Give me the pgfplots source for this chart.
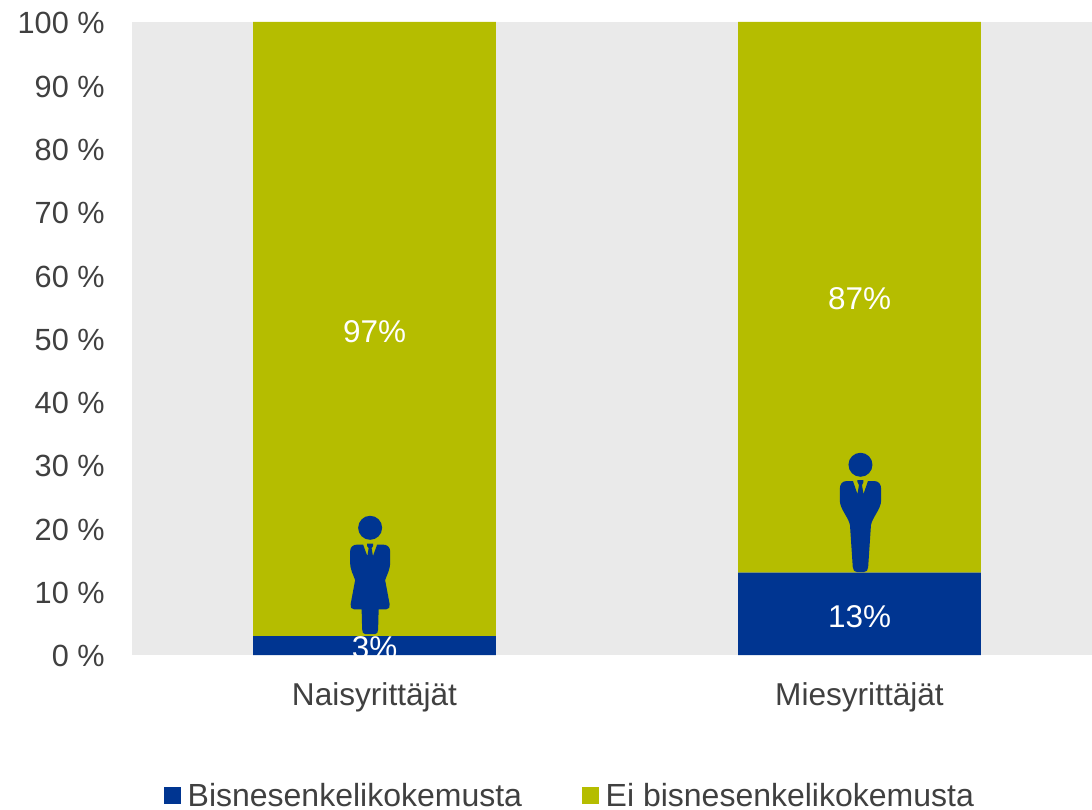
\documentclass[border=0pt]{standalone}
\usepackage{fontspec}
\setmainfont{Liberation Sans}
\usepackage{pgfplots}
\pgfplotsset{compat=1.18}
\usepgflibrary{svg.path}

\definecolor{kblue}{HTML}{003591}
\definecolor{kolive}{HTML}{B5BD00}
\definecolor{kback}{HTML}{EAEAEA}
\definecolor{ktext}{HTML}{404040}

% icons, drawn in reference pixels from the feet up
\pgfdeclareplotmark{woman}{%
  \pgftransformscale{0.75}%
  \pgfpathsvg{M -5 0 L 5 0 C 7 0 8 2 8 5 L 8.5 24.7 L 16 24.7 C 19 24.7 20 27 19.5 30 L 15 54 C 17 60 20 64 20 72 L 20 83 C 20 87 17 89.5 13 89.5 L 7 89.5 L 2.8 78 L 1.5 86 L 3 88 L 3 90.5 L -3 90.5 L -3 88 L -1.5 86 L -2.8 78 L -7 89.5 L -13 89.5 C -17 89.5 -20 87 -20 83 L -20 72 C -20 64 -17 60 -15 54 L -19.5 30 C -20 27 -19 24.7 -16 24.7 L -8.5 24.7 L -8 5 C -8 2 -7 0 -5 0 Z}%
  \pgfpathcircle{\pgfqpoint{0pt}{106.3pt}}{12pt}%
  \pgfusepathqfill}
\pgfdeclareplotmark{man}{%
  \pgftransformscale{0.75}%
  \pgfpathsvg{M -3.5 0 L 3.5 0 C 6 0 7.5 2 7.7 5 L 10.5 47 C 12 55 20.7 63 20.7 72 L 20.7 83 C 20.7 88 18 91 14 91 L 7.5 91 L 3 78 L 1.5 87 L 3 90 L 3 92 L -3 92 L -3 90 L -1.5 87 L -3 78 L -7.5 91 L -14 91 C -18 91 -20.7 88 -20.7 83 L -20.7 72 C -20.7 63 -12 55 -10.5 47 L -7.7 5 C -7.5 2 -6 0 -3.5 0 Z}%
  \pgfpathcircle{\pgfqpoint{0pt}{107.3pt}}{12pt}%
  \pgfusepathqfill}

\begin{document}
\begin{tikzpicture}[x=1pt,y=1pt]
\path[use as bounding box] (-99pt,-116.25pt) rectangle (720pt,491.25pt);
\begin{axis}[
    at={(0,0)}, anchor=south west,
    scale only axis,
    width=720pt, height=474.75pt,
    ybar stacked,
    bar width=182pt,
    xmin=-0.5, xmax=1.4794,
    ymin=0, ymax=100,
    axis background/.style={fill=kback},
    axis line style={draw=none},
    major tick length=0pt,
    xtick={0,1},
    xticklabels={Naisyrittäjät,Miesyrittäjät},
    ytick={0,10,...,100},
    yticklabel={\pgfmathprintnumber{\tick}~\%},
    /pgf/number format/assume math mode=true,
    y tick label style={font=\fontsize{23}{23}\selectfont, text=ktext, xshift=-17pt, yshift=-1pt},
    x tick label style={font=\fontsize{23.7}{24}\selectfont, text=ktext, yshift=-17pt},
    legend columns=2,
    legend style={draw=none, fill=none, inner sep=0pt, outer sep=0pt,
      at={(24pt,-115.2pt)}, anchor=south west,
      font=\fontsize{24}{24}\selectfont, text=ktext,
      /tikz/every even column/.append style={column sep=40pt},
      nodes={inner xsep=5pt, inner ysep=0pt}},
    legend image code/.code={\fill[#1] (0pt,-6pt) rectangle (12.75pt,6.75pt);},
]
\addplot[fill=kblue, draw=none] coordinates {(0,3) (1,13)};
\addplot[fill=kolive, draw=none] coordinates {(0,97) (1,87)};
\legend{Bisnesenkelikokemusta, Ei bisnesenkelikokemusta}
\end{axis}
% second axis with the same scale: icons and value labels on top of the bars
\begin{axis}[
    at={(0,0)}, anchor=south west,
    scale only axis,
    width=720pt, height=474.75pt,
    xmin=-0.5, xmax=1.4794,
    ymin=0, ymax=100,
    hide axis,
    clip marker paths=true,
]
\addplot[only marks, mark=woman, color=kblue] coordinates {(-0.009,3.3)};
\addplot[only marks, mark=man, color=kblue] coordinates {(1.002,13.1)};
\addplot[only marks, mark=none,
    point meta=explicit symbolic,
    nodes near coords,
    every node near coord/.append style={anchor=center, text=white,
       font=\fontsize{23.6}{24}\selectfont},
  ] coordinates {(0,1.1) [3\%] (1,6.05) [13\%] (0,51.05) [97\%] (1,56.25) [87\%]};
\end{axis}
\end{tikzpicture}
\end{document}
